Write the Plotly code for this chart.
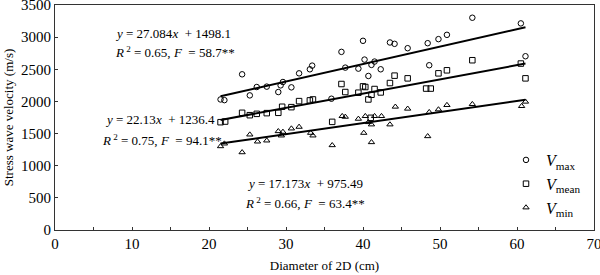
import plotly.graph_objects as go

# Diameter of 2D (cm) and stress wave velocities (m/s)
vmax_x = [21.5, 22.0, 24.3, 25.3, 26.2, 27.5, 29.0, 29.3, 29.6, 30.7, 31.7, 33.1, 33.4,
          35.9, 37.2, 37.7, 39.4, 40.0, 40.2, 40.7, 41.1, 41.5, 42.3, 43.5, 44.1, 45.8,
          48.4, 48.6, 49.8, 50.9, 54.2, 60.5, 61.1]
vmax_y = [2031, 2020, 2422, 2094, 2224, 2230, 2146, 2250, 2302, 2219, 2437, 2500, 2557,
          2042, 2771, 2526, 2510, 2943, 2651, 2396, 2568, 2620, 2500, 2917, 2896, 2828,
          2906, 2563, 2969, 3036, 3302, 3214, 2703]

vmean_x = [21.5, 22.1, 24.3, 25.3, 26.2, 27.5, 29.0, 29.5, 30.7, 31.7, 33.1, 33.5,
           36.0, 37.2, 37.7, 39.4, 40.0, 40.3, 40.7, 41.0, 41.1, 41.5, 42.3, 43.5, 44.1,
           45.8, 48.2, 48.8, 49.8, 50.9, 54.2, 60.5, 61.1]
vmean_y = [1677, 1687, 1823, 1786, 1807, 1818, 1823, 1917, 1911, 2005, 2016, 2031,
           1682, 2271, 2146, 2136, 2234, 2224, 2031, 1745, 2104, 2193, 2140, 2286, 2401,
           2359, 2200, 2200, 2437, 2484, 2641, 2589, 2359]

vmin_x = [21.5, 22.0, 24.3, 25.3, 26.3, 27.5, 29.0, 29.4, 29.6, 30.7, 31.7, 33.2, 33.5,
          36.0, 37.3, 37.7, 39.4, 40.1, 40.3, 40.7, 41.1, 41.1, 41.5, 42.4, 43.5, 44.2,
          45.8, 48.4, 48.6, 49.8, 50.9, 54.2, 60.6, 61.1]
vmin_y = [1302, 1344, 1208, 1484, 1375, 1391, 1536, 1469, 1526, 1578, 1604, 1510, 1469,
          1318, 1771, 1760, 1729, 1510, 1771, 1677, 1641, 1365, 1771, 1771, 1641, 1917,
          1886, 1458, 1833, 1875, 1943, 1958, 1927, 1995]

# Regression coefficients (slope, intercept) shown on the chart
fit_max = (27.084, 1498.1)
fit_mean = (22.13, 1236.4)
fit_min = (17.173, 975.49)

x_ticks = [0, 10, 20, 30, 40, 50, 60, 70]
y_ticks = [0, 500, 1000, 1500, 2000, 2500, 3000, 3500]

FONT = "Liberation Serif, Times New Roman, serif"

fig = go.Figure()

def fit_line(xs, coef):
    x0, x1 = min(xs), max(xs)
    return [x0, x1], [coef[0] * x0 + coef[1], coef[0] * x1 + coef[1]]

for xs, coef in [(vmax_x, fit_max), (vmean_x, fit_mean), (vmin_x, fit_min)]:
    lx, ly = fit_line(xs, coef)
    fig.add_trace(go.Scatter(x=lx, y=ly, mode="lines", showlegend=False,
                             line=dict(color="black", width=2), hoverinfo="skip"))

mk = dict(color="black", size=5.5, line=dict(width=1, color="black"))
fig.add_trace(go.Scatter(x=vmax_x, y=vmax_y, mode="markers", name="<i>V</i><sub>max</sub>",
                         marker=dict(symbol="circle-open", **mk)))
fig.add_trace(go.Scatter(x=vmean_x, y=vmean_y, mode="markers", name="<i>V</i><sub>mean</sub>",
                         marker=dict(symbol="square-open", **mk)))
fig.add_trace(go.Scatter(x=vmin_x, y=vmin_y, mode="markers", name="<i>V</i><sub>min</sub>",
                         marker=dict(symbol="triangle-up-open", **mk)))

ann = [
    (113, 33, "<i>y</i> = 27.084<i>x</i>  + 1498.1"),
    (113, 52, "<i>R</i><sup> 2</sup> = 0.65, <i>F</i>  = 58.7**"),
    (103, 120, "<i>y</i> = 22.13<i>x</i>  + 1236.4"),
    (100, 140, "<i>R</i><sup> 2</sup> = 0.75, <i>F</i>  = 94.1**"),
    (245, 183, "<i>y</i> = 17.173<i>x</i>  + 975.49"),
    (243, 203, "<i>R</i><sup> 2</sup> = 0.66, <i>F</i>  = 63.4**"),
]
L, R, T, B = 55, 6, 5, 45
W, H = 600, 275
pw, ph = W - L - R, H - T - B
for px, py, txt in ann:
    fig.add_annotation(x=(px - L) / pw, y=1 - (py - T) / ph, xref="paper", yref="paper",
                       text=txt, showarrow=False, xanchor="left", yanchor="middle",
                       font=dict(family=FONT, size=13, color="black"))

axis_common = dict(showline=True, linecolor="#333", linewidth=1, mirror=True,
                   showgrid=False, zeroline=False, ticks="inside", ticklen=3,
                   tickcolor="#333", automargin=False, ticklabeloverflow="allow",
                   tickfont=dict(family=FONT, size=15, color="black"))

fig.update_xaxes(range=[0, 70], tickvals=x_ticks, ticktext=[str(v) for v in x_ticks],
                 minor=dict(dtick=5, tick0=0, ticks="inside", ticklen=3, tickcolor="#333"),
                 title=dict(text="Diameter of 2D (cm)", font=dict(family=FONT, size=13, color="black"),
                            standoff=9),
                 **axis_common)
fig.update_yaxes(range=[0, 3500], tickvals=y_ticks, ticktext=[str(v) for v in y_ticks],
                 title=dict(text="Stress wave velocity (m/s)", font=dict(family=FONT, size=13, color="black"),
                            standoff=4),
                 **axis_common)

fig.update_layout(
    width=W, height=H, margin=dict(l=L, r=R, t=T, b=B),
    paper_bgcolor="white", plot_bgcolor="white",
    font=dict(family=FONT, size=13, color="black"),
    legend=dict(x=(506 - L) / pw, y=1 - (143 - T) / ph, xanchor="left", yanchor="top",
                bgcolor="rgba(0,0,0,0)", font=dict(family=FONT, size=16),
                itemwidth=30, tracegroupgap=0),
)

fig.write_html("out.html", config={"displayModeBar": False},
               post_script="document.body.style.margin='0';")
